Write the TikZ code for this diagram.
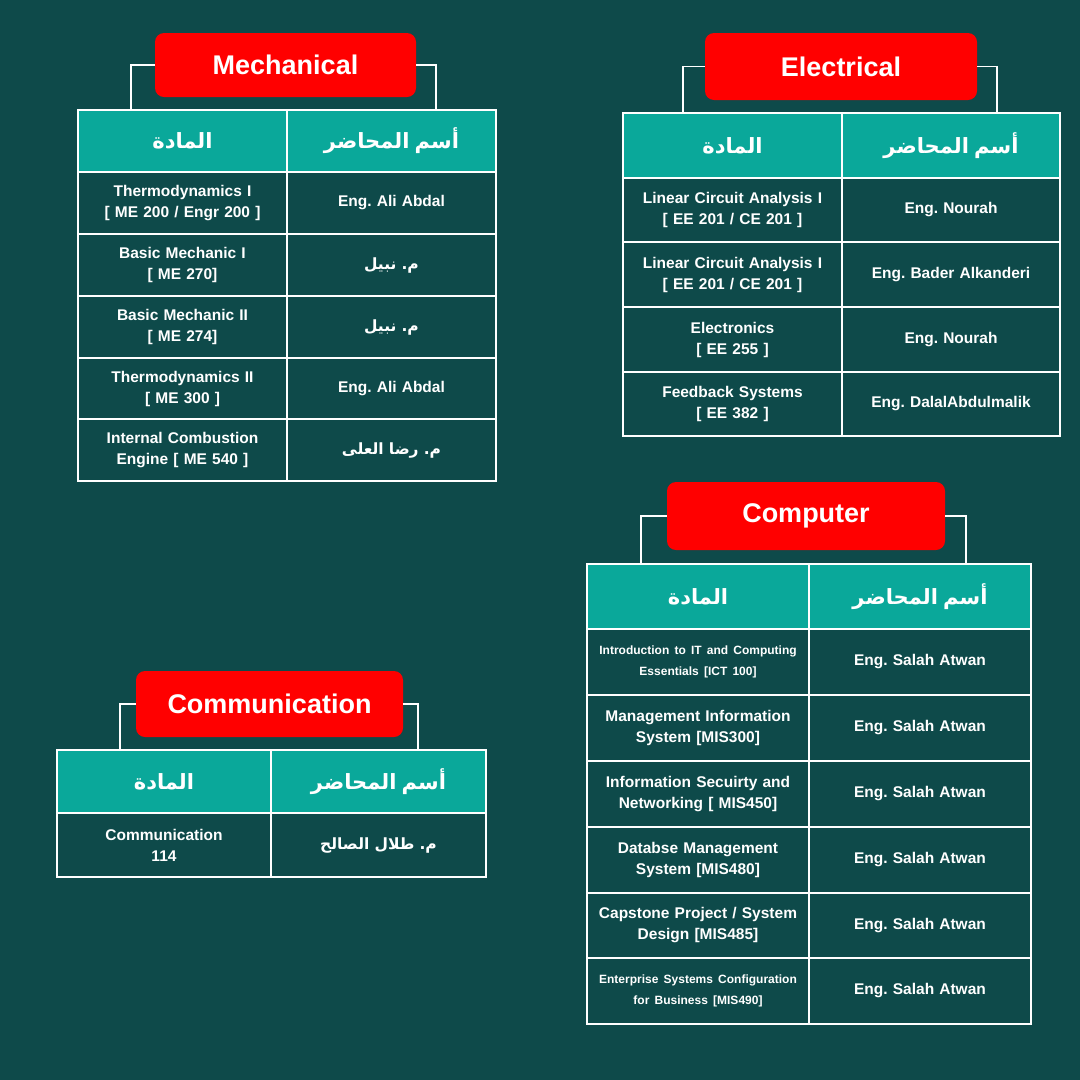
\documentclass[tikz,border=0pt]{standalone}
\usepackage{fontspec}
\setmainfont{Liberation Sans}
\newfontfamily\arabicfont[Script=Arabic]{DejaVu Sans}
\TeXXeTstate=1
\frenchspacing
\definecolor{bgc}{HTML}{0E4A4A}
\definecolor{hdc}{HTML}{0AA89A}
\definecolor{redc}{HTML}{FF0000}
\newcommand\cellA[7]{\node[cellbox,fill=#7,minimum width={(#4-#2)*1pt},minimum height={(#5-#3)*1pt},text width={(#4-#2-10)*1pt}] (#1) at ({(#2+#4)/2},{(#3+#5)/2}) {#6};}
\newcommand\ar[1]{{\arabicfont\bfseries\beginR #1\endR}}
\newcommand\hdA{\fontsize{21}{24}\selectfont\ar{المادة}}
\newcommand\hdB{\fontsize{21}{24}\selectfont\ar{أسم المحاضر}}
\newcommand\sm{\fontsize{12}{24}\selectfont}
\begin{document}
\begin{tikzpicture}[x=1pt,y=-1pt,
  cellbox/.style={draw=white,line width=1.6pt,inner sep=0pt,outer sep=0pt,align=center,text=white,font=\fontsize{15.5}{21}\selectfont\bfseries},
  title/.style={fill=redc,rounded corners=9pt,text=white,font=\fontsize{27}{30}\selectfont\bfseries,inner sep=0pt},
  br/.style={draw=white,line width=1.6pt}]
\fill[bgc] (0,0) rectangle (1080,1080);
% Mechanical
\node[title,minimum width=261pt,minimum height=64pt] (mech) at (285.5,65) {Mechanical};
\cellA{m0a}{78}{110}{287}{172}{\hdA}{hdc}
\cellA{m0b}{287}{110}{496}{172}{\hdB}{hdc}
\cellA{m1a}{78}{172}{287}{234}{Thermodynamics I\\{[} ME 200 / Engr 200 ]}{bgc}
\cellA{m1b}{287}{172}{496}{234}{Eng. Ali Abdal}{bgc}
\cellA{m2a}{78}{234}{287}{296}{Basic Mechanic I\\{[} ME 270]}{bgc}
\cellA{m2b}{287}{234}{496}{296}{\ar{م. نبيل}}{bgc}
\cellA{m3a}{78}{296}{287}{358}{Basic Mechanic II\\{[} ME 274]}{bgc}
\cellA{m3b}{287}{296}{496}{358}{\ar{م. نبيل}}{bgc}
\cellA{m4a}{78}{358}{287}{419}{Thermodynamics II\\{[} ME 300 ]}{bgc}
\cellA{m4b}{287}{358}{496}{419}{Eng. Ali Abdal}{bgc}
\cellA{m5a}{78}{419}{287}{481}{Internal Combustion\\Engine [ ME 540 ]}{bgc}
\cellA{m5b}{287}{419}{496}{481}{\ar{م. رضا العلى}}{bgc}
\coordinate (mL) at (131,110); \coordinate (mR) at (436,110);
\draw[br] (mech.west) -| (mL); \draw[br] (mech.east) -| (mR);
% Electrical
\node[title,minimum width=272pt,minimum height=67pt] (elec) at (841,66.5) {Electrical};
\cellA{e0a}{623}{113}{842}{178}{\hdA}{hdc}
\cellA{e0b}{842}{113}{1060}{178}{\hdB}{hdc}
\cellA{e1a}{623}{178}{842}{242}{Linear Circuit Analysis I\\{[} EE 201 / CE 201 ]}{bgc}
\cellA{e1b}{842}{178}{1060}{242}{Eng. Nourah}{bgc}
\cellA{e2a}{623}{242}{842}{307}{Linear Circuit Analysis I\\{[} EE 201 / CE 201 ]}{bgc}
\cellA{e2b}{842}{242}{1060}{307}{Eng. Bader Alkanderi}{bgc}
\cellA{e3a}{623}{307}{842}{372}{Electronics\\{[} EE 255 ]}{bgc}
\cellA{e3b}{842}{307}{1060}{372}{Eng. Nourah}{bgc}
\cellA{e4a}{623}{372}{842}{436}{Feedback Systems\\{[} EE 382 ]}{bgc}
\cellA{e4b}{842}{372}{1060}{436}{Eng. DalalAbdulmalik}{bgc}
\coordinate (eL) at (683,113); \coordinate (eR) at (997,113);
\draw[br] (elec.west) -| (eL); \draw[br] (elec.east) -| (eR);
% Computer
\node[title,minimum width=278pt,minimum height=68pt] (comp) at (806,516) {Computer};
\cellA{c0a}{587}{564}{809}{629}{\hdA}{hdc}
\cellA{c0b}{809}{564}{1031}{629}{\hdB}{hdc}
\cellA{c1a}{587}{629}{809}{695}{\sm Introduction to IT and Computing\\Essentials [ICT 100]}{bgc}
\cellA{c1b}{809}{629}{1031}{695}{Eng. Salah Atwan}{bgc}
\cellA{c2a}{587}{695}{809}{761}{Management Information\\System [MIS300]}{bgc}
\cellA{c2b}{809}{695}{1031}{761}{Eng. Salah Atwan}{bgc}
\cellA{c3a}{587}{761}{809}{827}{Information Secuirty and\\Networking [ MIS450]}{bgc}
\cellA{c3b}{809}{761}{1031}{827}{Eng. Salah Atwan}{bgc}
\cellA{c4a}{587}{827}{809}{893}{Databse Management\\System [MIS480]}{bgc}
\cellA{c4b}{809}{827}{1031}{893}{Eng. Salah Atwan}{bgc}
\cellA{c5a}{587}{893}{809}{958}{Capstone Project / System\\Design [MIS485]}{bgc}
\cellA{c5b}{809}{893}{1031}{958}{Eng. Salah Atwan}{bgc}
\cellA{c6a}{587}{958}{809}{1024}{\sm Enterprise Systems Configuration\\for Business [MIS490]}{bgc}
\cellA{c6b}{809}{958}{1031}{1024}{Eng. Salah Atwan}{bgc}
\coordinate (cL) at (641,564); \coordinate (cR) at (966,564);
\draw[br] (comp.west) -| (cL); \draw[br] (comp.east) -| (cR);
% Communication
\node[title,minimum width=267pt,minimum height=66pt] (comm) at (269.5,704) {Communication};
\cellA{k0a}{57}{750}{271}{813}{\hdA}{hdc}
\cellA{k0b}{271}{750}{486}{813}{\hdB}{hdc}
\cellA{k1a}{57}{813}{271}{877}{Communication\\114}{bgc}
\cellA{k1b}{271}{813}{486}{877}{\ar{م. طلال الصالح}}{bgc}
\coordinate (kL) at (120,750); \coordinate (kR) at (418,750);
\draw[br] (comm.west) -| (kL); \draw[br] (comm.east) -| (kR);
\end{tikzpicture}
\end{document}
